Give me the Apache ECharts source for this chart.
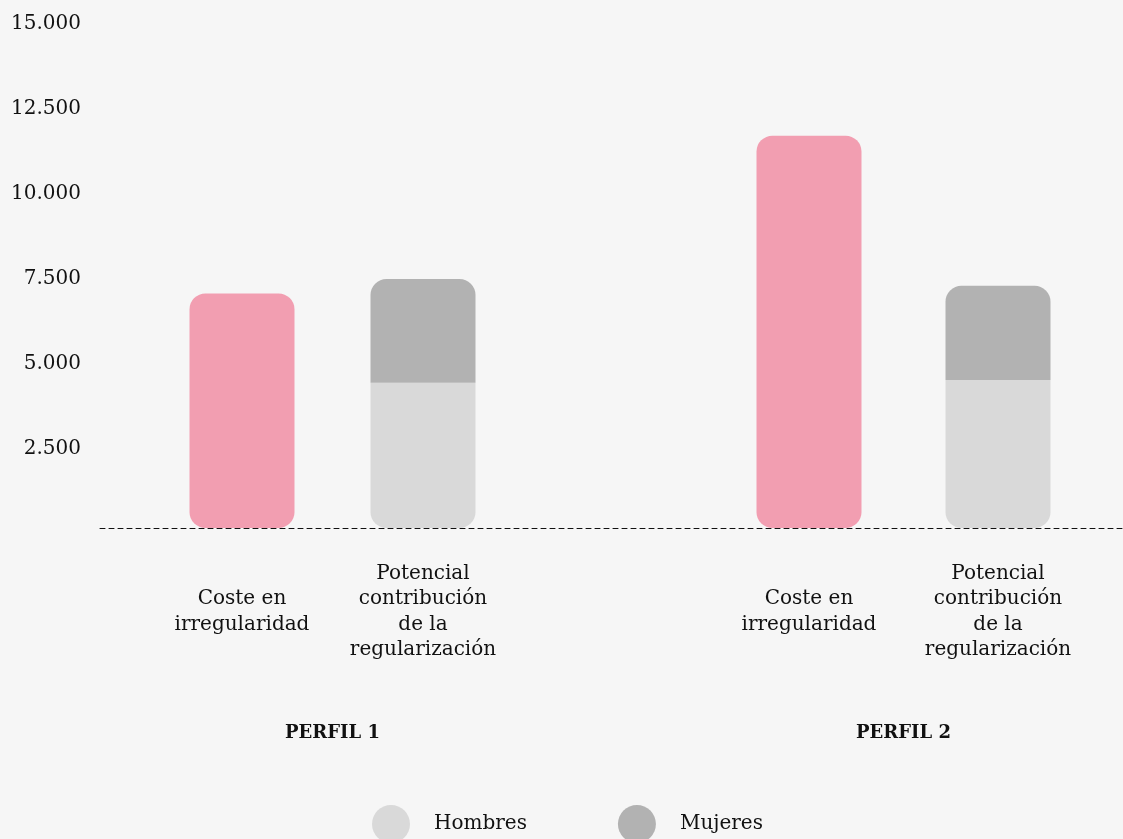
<!DOCTYPE html>
<html>
<head>
<meta charset="utf-8">
<script src="https://cdn.jsdelivr.net/npm/echarts@6/dist/echarts.min.js"></script>
<style>
html,body{margin:0;padding:0;background:#f6f6f6;}
#chart{width:1123px;height:839px;}
</style>
</head>
<body>
<div id="chart"></div>
<script>
const categories = ['Coste en\nirregularidad', 'Potencial\ncontribución\nde la\nregularización'];
const profiles = ['PERFIL 1', 'PERFIL 2'];
const coste = [6900, 11540];
const hombres = [4270, 4350];
const mujeres = [3050, 2775];
const yMin = 0, yMax = 15000, yStep = 2500;

const FONT = 'DejaVu Serif';
const PINK = '#f29eb1', LIGHT = '#d9d9d9', DARK = '#b2b2b2';

function fmt(v) {
  if (v === 0) return '';
  return String(v).replace(/\B(?=(\d{3})+(?!\d))/g, '.');
}

const chart = echarts.init(document.getElementById('chart'));
const grids = [
  { left: 100, right: 0, top: 18, height: 510 },
  { left: 151.5, width: 362, top: 18, height: 510 },
  { left: 714.5, width: 378, top: 18, height: 510 },
  { left: 100, right: 0, top: 23.5, height: 510 }
];
const xAxes = [{
  type: 'category', gridIndex: 0, data: ['x'],
  axisLine: { show: true, lineStyle: { color: '#111', type: [5, 4], width: 1 } },
  axisTick: { show: false }, axisLabel: { show: false }
}];
const yAxes = [{
  type: 'value', gridIndex: 0, min: yMin, max: yMax, interval: yStep, show: false
}];
const series = [];
profiles.forEach((p, i) => {
  const gi = i + 1;
  xAxes.push({
    type: 'category', gridIndex: gi, data: categories,
    axisLine: { show: false }, axisTick: { show: false },
    axisLabel: { fontFamily: FONT, fontSize: 20, color: '#111', lineHeight: 25.5, margin: 84, verticalAlign: 'middle', align: 'center', interval: 0 },
    name: p, nameLocation: 'middle', nameGap: 196,
    nameTextStyle: { fontFamily: FONT, fontSize: 18, fontWeight: 'bold', color: '#111' }
  });
  yAxes.push({
    type: 'value', gridIndex: gi, min: yMin, max: yMax, interval: yStep, show: false
  });
  series.push({
    name: 'Coste en irregularidad', type: 'bar', xAxisIndex: gi, yAxisIndex: gi,
    data: [coste[i], '-'], barWidth: 105, barGap: '-100%',
    itemStyle: { color: PINK, borderRadius: 16 }, silent: true
  });
  series.push({
    name: 'Hombres', type: 'bar', stack: 'pot' + gi, xAxisIndex: gi, yAxisIndex: gi,
    data: ['-', hombres[i]], barWidth: 105, barGap: '-100%',
    itemStyle: { color: LIGHT, borderRadius: [0, 0, 16, 16] }
  });
  series.push({
    name: 'Mujeres', type: 'bar', stack: 'pot' + gi, xAxisIndex: gi, yAxisIndex: gi,
    data: ['-', mujeres[i]], barWidth: 105, barGap: '-100%',
    itemStyle: { color: DARK, borderRadius: [16, 16, 0, 0] }
  });
});
// y-axis tick labels (same scale, drawn slightly lower like the reference)
xAxes.push({ type: 'category', gridIndex: 3, data: ['x'], show: false });
yAxes.push({
  type: 'value', gridIndex: 3, min: yMin, max: yMax, interval: yStep,
  axisLine: { show: false }, axisTick: { show: false }, splitLine: { show: false },
  axisLabel: { formatter: fmt, fontFamily: FONT, fontSize: 20, color: '#111', margin: 19 }
});

chart.setOption({
  backgroundColor: '#f6f6f6',
  animation: false,
  grid: grids,
  xAxis: xAxes,
  yAxis: yAxes,
  legend: {
    data: ['Hombres', 'Mujeres'],
    left: 372, top: 805, padding: 0,
    icon: 'circle', itemWidth: 38, itemHeight: 38, itemGap: 91,
    textStyle: { fontFamily: FONT, fontSize: 20, color: '#111', padding: [0, 0, 0, 19] }
  },
  series: series
});
</script>
</body>
</html>
